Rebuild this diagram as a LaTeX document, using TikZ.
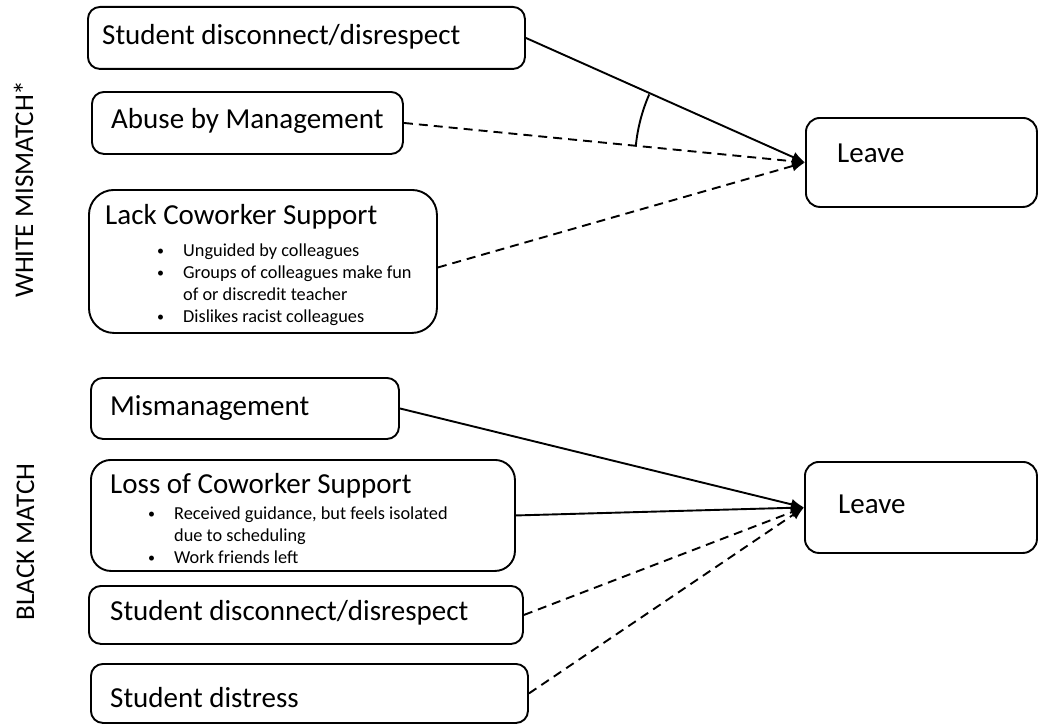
\documentclass[tikz,border=0pt]{standalone}
\usepackage{fontspec}
\setmainfont{Carlito}
\usetikzlibrary{arrows.meta,calc}
\newcommand\bdot{\llap{\makebox[0pt][c]{\raisebox{0.5pt}{\fontsize{14}{14}\selectfont •}}\hspace{22.5pt}}}
\begin{document}
\begin{tikzpicture}[x=1pt,y=-1pt,
  box/.style={draw=black, line width=1.9pt, rounded corners=#1, inner sep=0pt, anchor=north west},
  box/.default=12pt,
  lbl/.style={inner sep=0pt, anchor=base west, font=\fontsize{29}{34}\selectfont},
  bul/.style={inner sep=0pt, anchor=base west, font=\fontsize{18.3}{22}\selectfont},
  side/.style={inner sep=0pt, anchor=base, rotate=90, font=\fontsize{27}{32}\selectfont},
  link/.style={line width=1.9pt, -{Latex[length=13pt,width=11pt]}},
  weak/.style={link, dash pattern=on 9pt off 6pt},
]
\fill[white] (0,0) rectangle (1041,725);
\useasboundingbox (0,0) rectangle (1041,725);

% side labels
\node[side] (wm) at (33,189) {WHITE MISMATCH{\fontsize{30}{30}\selectfont\raisebox{-2pt}{*}}};
\node[side] (bm) at (34,542) {BLACK MATCH};

% top group
\node[box, minimum width=437pt, minimum height=62pt] (b1) at (87,6) {};
\node[lbl] (b1t) at (102,45) {Student disconnect/disrespect};
\node[box, minimum width=311pt, minimum height=62pt] (b2) at (91,91) {};
\node[lbl] (b2t) at (111,128) {Abuse by Management};
\node[box=25pt, minimum width=348pt, minimum height=143pt] (b3) at (88,189) {};
\node[lbl] (b3t) at (105,224) {Lack Coworker Support};
\node[bul] (b3a) at (183,256) {\bdot Unguided by colleagues};
\node[bul] (b3b) at (183,278) {\bdot Groups of colleagues make fun};
\node[bul] (b3c) at (183,300) {of or discredit teacher};
\node[bul] (b3d) at (183,322) {\bdot Dislikes racist colleagues};
\node[box=14pt, minimum width=231pt, minimum height=89pt] (l1) at (805,117) {};
\node[lbl] (l1t) at (837,162) {Leave};

\draw[link] (b1.east) -- (l1.west);
\draw[weak] (b2.east) -- (l1.west);
\draw[weak] ($(b3.east)+(0,6)$) -- (l1.west);
\draw[line width=1.9pt, shift={(l1.west)}] plot[domain=185.4:203.6, samples=40] (\x:170);

% bottom group
\node[box, minimum width=308pt, minimum height=61pt] (m1) at (90,377) {};
\node[lbl] (m1t) at (110,415) {Mismanagement};
\node[box=20pt, minimum width=424pt, minimum height=111pt] (m2) at (90,459) {};
\node[lbl] (m2t) at (110,493) {Loss of Coworker Support};
\node[bul] (m2a) at (174,519) {\bdot Received guidance, but feels isolated};
\node[bul] (m2b) at (174,541) {due to scheduling};
\node[bul] (m2c) at (174,563) {\bdot Work friends left};
\node[box, minimum width=434pt, minimum height=58pt] (m3) at (88,585) {};
\node[lbl] (m3t) at (110,620) {Student disconnect/disrespect};
\node[box, minimum width=437pt, minimum height=59pt] (m4) at (90,663) {};
\node[lbl] (m4t) at (110,707) {Student distress};
\node[box=14pt, minimum width=232pt, minimum height=91pt] (l2) at (804,461) {};
\node[lbl] (l2t) at (838,513) {Leave};

\draw[link] (m1.east) -- (l2.west);
\draw[link] (m2.east) -- (l2.west);
\draw[weak] (m3.east) -- (l2.west);
\draw[weak] (m4.east) -- (l2.west);
\end{tikzpicture}
\end{document}
